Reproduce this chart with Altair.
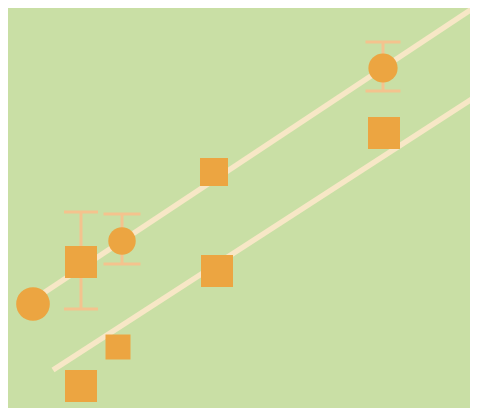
import altair as alt
import pandas as pd

# Values (arbitrary units)
circle_x = [3.3, 12.2, 38.3]
circle_y = [10.4, 16.7, 34.0]
circle_d = [38, 31, 33]

square_x = [8.1, 11.8, 8.1, 21.4, 21.7, 38.4]
square_y = [14.6, 6.1, 2.2, 23.6, 13.7, 27.5]
square_side = [32, 25, 32, 28, 32, 32]

err_x = [8.1, 12.2, 38.3]
err_lo = [9.9, 14.4, 31.7]
err_hi = [19.6, 19.4, 36.6]
err_cap = [34, 37, 35]

line_id = ["upper", "upper", "lower", "lower"]
line_x = [3.3, 47.8, 5.3, 47.8]
line_y = [10.8, 40.3, 3.8, 31.3]

BG = "#c9dfa5"
ORANGE = "#eca541"
ERR = "#f4c38e"
LINE = "#f7e7c6"

xs = alt.Scale(domain=[0.8, 47.0], nice=False, zero=False)
ys = alt.Scale(domain=[0, 40], nice=False, zero=False)

circles = pd.DataFrame({"x": circle_x, "y": circle_y, "s": [d * d * 3.14159 / 4 for d in circle_d]})
squares = pd.DataFrame({"x": square_x, "y": square_y, "s": [s * s for s in square_side]})
errs = pd.DataFrame({"x": err_x, "lo": err_lo, "hi": err_hi, "cap": err_cap})
lines = pd.DataFrame({"id": line_id, "x": line_x, "y": line_y})

line_layer = alt.Chart(lines).mark_line(color=LINE, strokeWidth=5.5, clip=True).encode(
    x=alt.X("x:Q", scale=xs, axis=None),
    y=alt.Y("y:Q", scale=ys, axis=None),
    detail="id:N",
)

err_rule = alt.Chart(errs).mark_rule(color=ERR, strokeWidth=3).encode(
    x=alt.X("x:Q", scale=xs, axis=None),
    y=alt.Y("lo:Q", scale=ys, axis=None),
    y2="hi:Q",
)
cap_lo = alt.Chart(errs).mark_tick(color=ERR, orient="horizontal", thickness=3, opacity=1).encode(
    x=alt.X("x:Q", scale=xs, axis=None),
    y=alt.Y("lo:Q", scale=ys, axis=None),
    size=alt.Size("cap:Q", scale=None),
)
cap_hi = alt.Chart(errs).mark_tick(color=ERR, orient="horizontal", thickness=3, opacity=1).encode(
    x=alt.X("x:Q", scale=xs, axis=None),
    y=alt.Y("hi:Q", scale=ys, axis=None),
    size=alt.Size("cap:Q", scale=None),
)

circle_layer = alt.Chart(circles).mark_circle(color=ORANGE, opacity=1).encode(
    x=alt.X("x:Q", scale=xs, axis=None),
    y=alt.Y("y:Q", scale=ys, axis=None),
    size=alt.Size("s:Q", scale=None, legend=None),
)
square_layer = alt.Chart(squares).mark_square(color=ORANGE, opacity=1).encode(
    x=alt.X("x:Q", scale=xs, axis=None),
    y=alt.Y("y:Q", scale=ys, axis=None),
    size=alt.Size("s:Q", scale=None, legend=None),
)

chart = alt.layer(
    line_layer, err_rule, cap_lo, cap_hi, circle_layer, square_layer
).properties(
    width=462,
    height=400,
    padding=0,
    background=BG,
    autosize=alt.AutoSizeParams(type="fit", contains="padding"),
).configure_view(stroke=None, fill=BG)

chart.save("out.html", embed_options={"renderer": "svg", "actions": False})
